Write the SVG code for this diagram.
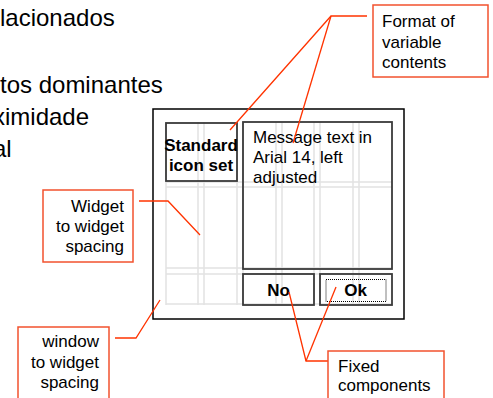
<svg xmlns="http://www.w3.org/2000/svg" width="493" height="398" viewBox="0 0 493 398">
<style>
text{font-family:"Liberation Sans",Arial,sans-serif;fill:#000}
.big{font-size:24px}
.t{font-size:17px}
.b{font-size:17px;font-weight:bold}
.grid line{stroke:#e2e2e2;stroke-width:1.5}
.box{fill:none;stroke:#3a3a3a;stroke-width:1.8}
.lbl{fill:#fff;stroke:#f2522e;stroke-width:1.5}
.conn{fill:none;stroke:#ff3300;stroke-width:1.3}
</style>
<rect width="493" height="398" fill="#fff"/>
<g id="bullets">
<text class="big" x="0" y="26">lacionados</text>
<text class="big" x="0" y="93">tos dominantes</text>
<text class="big" x="-7" y="125">ximidade</text>
<text class="big" x="-7" y="157">al</text>
</g>
<g id="window">
<rect x="153" y="109" width="251" height="210" fill="#fff" stroke="#000" stroke-width="1.5"/>
</g>
<g id="grid" class="grid">
<line x1="166" y1="122" x2="166" y2="305"/>
<line x1="198" y1="122" x2="198" y2="305"/>
<line x1="204" y1="122" x2="204" y2="305"/>
<line x1="237" y1="122" x2="237" y2="305"/>
<line x1="243" y1="122" x2="243" y2="305"/>
<line x1="276" y1="122" x2="276" y2="305"/>
<line x1="282" y1="122" x2="282" y2="305"/>
<line x1="314" y1="122" x2="314" y2="305"/>
<line x1="320" y1="122" x2="320" y2="305"/>
<line x1="353" y1="122" x2="353" y2="305"/>
<line x1="359" y1="122" x2="359" y2="305"/>
<line x1="166" y1="182" x2="392" y2="182"/>
<line x1="166" y1="187" x2="392" y2="187"/>
<line x1="166" y1="268" x2="392" y2="268"/>
<line x1="166" y1="274" x2="392" y2="274"/>
<line x1="166" y1="304" x2="392" y2="304"/>
</g>
<g id="icon-set">
<rect class="box" x="166" y="123" width="71" height="58"/>
<text class="b" x="201" y="151" text-anchor="middle">Standard</text>
<text class="b" x="201" y="171" text-anchor="middle">icon set</text>
</g>
<g id="message">
<rect class="box" x="243" y="122" width="149" height="147"/>
<text class="t" x="253" y="143">Message text in</text>
<text class="t" x="253" y="163">Arial 14, left</text>
<text class="t" x="253" y="183">adjusted</text>
</g>
<g id="no-button">
<rect class="box" x="243" y="274" width="71" height="31"/>
<text class="b" x="278.5" y="296" text-anchor="middle">No</text>
</g>
<g id="ok-button">
<rect class="box" x="320" y="274" width="72" height="31"/>
<rect x="326" y="279.5" width="60" height="22" fill="none" stroke="#000" stroke-width="1" stroke-dasharray="1,1"/>
<text class="b" x="355.5" y="296" text-anchor="middle">Ok</text>
</g>
<g id="connectors">
<polyline class="conn" points="367,16 331,16 230,130"/>
<line class="conn" x1="331" y1="16" x2="293" y2="143"/>
<polyline class="conn" points="139,201 168,201 200,235"/>
<polyline class="conn" points="115,338 136,338 160,300"/>
<polyline class="conn" points="328,361 306,361 289,292"/>
<line class="conn" x1="306" y1="361" x2="336" y2="287"/>
</g>
<g id="label-format">
<rect class="lbl" x="373" y="5" width="115" height="72"/>
<text class="t" x="382" y="27">Format of</text>
<text class="t" x="382" y="48">variable</text>
<text class="t" x="382" y="68">contents</text>
</g>
<g id="label-widget">
<rect class="lbl" x="43" y="190" width="90" height="72"/>
<text class="t" x="124" y="212" text-anchor="end">Widget</text>
<text class="t" x="124" y="232" text-anchor="end">to widget</text>
<text class="t" x="124" y="252" text-anchor="end">spacing</text>
</g>
<g id="label-window">
<rect class="lbl" x="18" y="327" width="91" height="80"/>
<text class="t" x="99" y="347" text-anchor="end">window</text>
<text class="t" x="99" y="368" text-anchor="end">to widget</text>
<text class="t" x="99" y="388" text-anchor="end">spacing</text>
</g>
<g id="label-fixed">
<rect class="lbl" x="328" y="351" width="116" height="60"/>
<text class="t" x="338" y="372">Fixed</text>
<text class="t" x="338" y="391">components</text>
</g>
</svg>
